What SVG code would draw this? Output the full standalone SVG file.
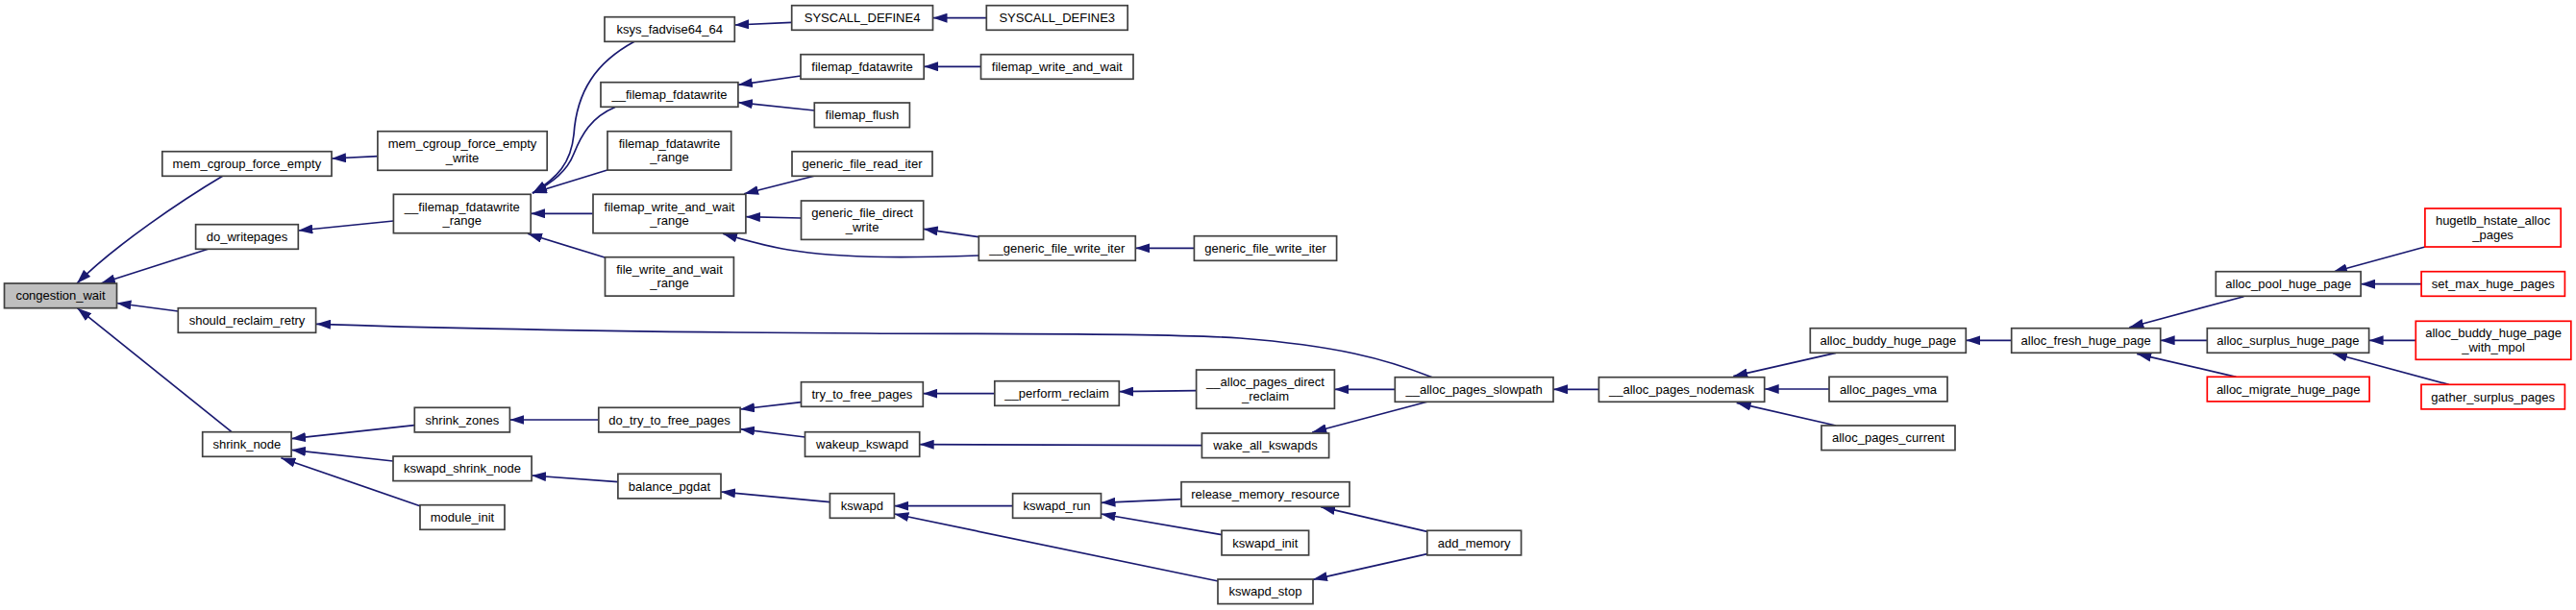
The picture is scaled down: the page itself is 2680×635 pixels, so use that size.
<svg xmlns="http://www.w3.org/2000/svg" width="2680" height="635" viewBox="0 0 2680 635">
<style>
.n rect{fill:#ffffff;stroke:#404040;stroke-width:1.7}
.n.root rect{fill:#bfbfbf}
.n.red rect{stroke:#ff0000}
.n text{font-family:"Liberation Sans",Arial,Helvetica,sans-serif;font-size:13px;fill:#000000;text-anchor:middle}
#edges path{fill:none;stroke:#191970;stroke-width:1.7;marker-end:url(#ah)}
</style>
<defs>
<marker id="ah" markerUnits="userSpaceOnUse" viewBox="0 0 15 10" markerWidth="15" markerHeight="10" refX="15" refY="5" orient="auto">
<path d="M0,0 L15,5 L0,10 z" fill="#191970"/>
</marker>
</defs>
<rect width="2680" height="635" fill="#ffffff"/>
<g id="edges">
<path d="M232,183 C190,208 120,255 80,295"/>
<path d="M216.5,259.3 L104.9,295"/>
<path d="M185.3,324 L121.4,315.5"/>
<path d="M241,449.7 L80.4,320.7"/>
<path d="M392.9,162.7 L345,165"/>
<path d="M409.4,230 L310.3,240"/>
<path d="M660,43.3 C620,65 600,95 597,140 C594,170 580,185 554,201"/>
<path d="M640,111.5 C615,122 605,140 597,160 C590,178 575,190 554,201"/>
<path d="M632.7,176.7 L554,201"/>
<path d="M616.7,222.3 L552.2,222.3"/>
<path d="M630,268.3 L549,243.3"/>
<path d="M823.7,23.3 L764.3,26"/>
<path d="M1026.3,18.7 L970.5,18.7"/>
<path d="M833,79 L767.9,88.3"/>
<path d="M847.3,115 L767.9,106.7"/>
<path d="M1020.5,69.3 L961.2,69.3"/>
<path d="M846.9,183.3 L774.1,201.7"/>
<path d="M833.5,227 L775.9,225.7"/>
<path d="M1018.3,266 C960,268 880,270 820,260 C795,256 775,250 752,243.3"/>
<path d="M1018.3,246.7 L960.7,238.3"/>
<path d="M1242.4,258.3 L1181.3,258.3"/>
<path d="M1490,392.7 C1440,373 1390,360 1290,352 C1200,346 1000,348 900,347 C700,346 500,343 329,337.3"/>
<path d="M431.3,442.7 L303.1,456.7"/>
<path d="M409,480 L303.1,468.3"/>
<path d="M437,526.7 L292.4,476.7"/>
<path d="M622.8,437 L530.4,437"/>
<path d="M642.9,501.7 L553.1,495"/>
<path d="M833.5,418.7 L770.1,426"/>
<path d="M837.5,455 L770.1,446.7"/>
<path d="M1034.8,409.7 L960.3,409.7"/>
<path d="M1244.6,406.7 L1164.3,407.7"/>
<path d="M1250.4,463.7 L956.7,462.7"/>
<path d="M863.4,522.7 L750,512"/>
<path d="M1053.6,526.7 L930.4,526.7"/>
<path d="M1267.4,605 L930.4,535"/>
<path d="M1228.6,519.7 L1145.5,523.3"/>
<path d="M1271,556.7 L1145.5,535"/>
<path d="M1484.8,553.3 L1374.1,527.7"/>
<path d="M1484.8,576.7 L1366,603.3"/>
<path d="M1451.3,405.3 L1388.4,405.3"/>
<path d="M1485.7,418 L1365.2,450"/>
<path d="M1663.4,405.3 L1616,405.3"/>
<path d="M1910,367.3 L1803.3,391.7"/>
<path d="M1903,405 L1835.7,405"/>
<path d="M1910,443 L1806.7,419.3"/>
<path d="M2092.7,354.3 L2045.3,354.3"/>
<path d="M2334.4,308.7 L2215.3,340.7"/>
<path d="M2296.3,354.3 L2247.6,354.3"/>
<path d="M2326.4,392.3 L2223.2,368.3"/>
<path d="M2522.9,257 L2427,283.3"/>
<path d="M2519.1,295.7 L2456.1,295.7"/>
<path d="M2513.3,354.3 L2464.6,354.3"/>
<path d="M2547.7,400.3 L2427,367.7"/>
</g>
<g id="node_congestion_wait" class="n root"><rect x="4.5" y="295" width="117" height="25.7"/><text x="63" y="312.3">congestion_wait</text></g>
<g id="node_mem_cgroup_force_empty" class="n"><rect x="168.8" y="157.7" width="176.2" height="25.6"/><text x="256.9" y="175">mem_cgroup_force_empty</text></g>
<g id="node_mem_cgroup_force_empty_write" class="n"><rect x="392.9" y="136.7" width="176.3" height="40.6"/><text x="481" y="154">mem_cgroup_force_empty</text><text x="481" y="168.5">_write</text></g>
<g id="node_do_writepages" class="n"><rect x="203.6" y="233.7" width="106.7" height="25.6"/><text x="257" y="251">do_writepages</text></g>
<g id="node_should_reclaim_retry" class="n"><rect x="185.3" y="320.7" width="143.3" height="25.6"/><text x="257" y="338">should_reclaim_retry</text></g>
<g id="node_shrink_node" class="n"><rect x="210.7" y="449.7" width="92.4" height="25.6"/><text x="256.9" y="467">shrink_node</text></g>
<g id="node___filemap_fdatawrite_range" class="n"><rect x="409.4" y="202.3" width="142.8" height="40.4"/><text x="480.8" y="219.5">__filemap_fdatawrite</text><text x="480.8" y="234">_range</text></g>
<g id="node_shrink_zones" class="n"><rect x="431.3" y="424.3" width="99.1" height="25.6"/><text x="480.9" y="441.6">shrink_zones</text></g>
<g id="node_kswapd_shrink_node" class="n"><rect x="409" y="475" width="144.1" height="25.6"/><text x="481" y="492.3">kswapd_shrink_node</text></g>
<g id="node_module_init" class="n"><rect x="437" y="525.7" width="88" height="25.6"/><text x="481" y="543">module_init</text></g>
<g id="node_ksys_fadvise64_64" class="n"><rect x="629" y="17.7" width="135.3" height="25.6"/><text x="696.7" y="35">ksys_fadvise64_64</text></g>
<g id="node___filemap_fdatawrite" class="n"><rect x="625" y="85.7" width="142.9" height="25.6"/><text x="696.5" y="103">__filemap_fdatawrite</text></g>
<g id="node_filemap_fdatawrite_range" class="n"><rect x="632" y="136.7" width="128.7" height="40.4"/><text x="696.4" y="153.9">filemap_fdatawrite</text><text x="696.4" y="168.4">_range</text></g>
<g id="node_filemap_write_and_wait_range" class="n"><rect x="617" y="202.3" width="158.9" height="40.4"/><text x="696.5" y="219.5">filemap_write_and_wait</text><text x="696.5" y="234">_range</text></g>
<g id="node_file_write_and_wait_range" class="n"><rect x="629.5" y="267.7" width="133.9" height="40.4"/><text x="696.5" y="284.9">file_write_and_wait</text><text x="696.5" y="299.4">_range</text></g>
<g id="node_do_try_to_free_pages" class="n"><rect x="622.8" y="424.3" width="147.3" height="25.6"/><text x="696.5" y="441.6">do_try_to_free_pages</text></g>
<g id="node_balance_pgdat" class="n"><rect x="642.9" y="493.3" width="107.1" height="25.6"/><text x="696.5" y="510.6">balance_pgdat</text></g>
<g id="node_SYSCALL_DEFINE4" class="n"><rect x="823.7" y="5.7" width="146.8" height="25.6"/><text x="897.1" y="23">SYSCALL_DEFINE4</text></g>
<g id="node_filemap_fdatawrite" class="n"><rect x="833" y="56.7" width="128.2" height="25.6"/><text x="897.1" y="74">filemap_fdatawrite</text></g>
<g id="node_filemap_flush" class="n"><rect x="847.3" y="107" width="99.1" height="25.6"/><text x="896.9" y="124.3">filemap_flush</text></g>
<g id="node_generic_file_read_iter" class="n"><rect x="824" y="157.7" width="146" height="25.6"/><text x="897" y="175">generic_file_read_iter</text></g>
<g id="node_generic_file_direct_write" class="n"><rect x="833.5" y="209" width="127.2" height="40.4"/><text x="897.1" y="226.2">generic_file_direct</text><text x="897.1" y="240.7">_write</text></g>
<g id="node_try_to_free_pages" class="n"><rect x="833.5" y="397.7" width="126.8" height="25.6"/><text x="896.9" y="415">try_to_free_pages</text></g>
<g id="node_wakeup_kswapd" class="n"><rect x="837.5" y="449.7" width="119.2" height="25.6"/><text x="897.1" y="467">wakeup_kswapd</text></g>
<g id="node_kswapd" class="n"><rect x="863.4" y="513.7" width="67" height="25.6"/><text x="896.9" y="531">kswapd</text></g>
<g id="node_SYSCALL_DEFINE3" class="n"><rect x="1026.3" y="5.7" width="146.9" height="25.6"/><text x="1099.75" y="23">SYSCALL_DEFINE3</text></g>
<g id="node_filemap_write_and_wait" class="n"><rect x="1020.5" y="56.7" width="158.5" height="25.6"/><text x="1099.75" y="74">filemap_write_and_wait</text></g>
<g id="node___generic_file_write_iter" class="n"><rect x="1018.3" y="245.7" width="163" height="25.6"/><text x="1099.8" y="263">__generic_file_write_iter</text></g>
<g id="node___perform_reclaim" class="n"><rect x="1034.8" y="396.7" width="129.5" height="25.6"/><text x="1099.55" y="414">__perform_reclaim</text></g>
<g id="node_kswapd_run" class="n"><rect x="1053.6" y="513.7" width="91.9" height="25.6"/><text x="1099.55" y="531">kswapd_run</text></g>
<g id="node_generic_file_write_iter" class="n"><rect x="1242.4" y="245.7" width="148.2" height="25.6"/><text x="1316.5" y="263">generic_file_write_iter</text></g>
<g id="node___alloc_pages_direct_reclaim" class="n"><rect x="1244.6" y="385" width="143.8" height="40.3"/><text x="1316.5" y="402.2">__alloc_pages_direct</text><text x="1316.5" y="416.7">_reclaim</text></g>
<g id="node_wake_all_kswapds" class="n"><rect x="1250.4" y="451" width="132.2" height="25.6"/><text x="1316.5" y="468.3">wake_all_kswapds</text></g>
<g id="node_release_memory_resource" class="n"><rect x="1229" y="501.7" width="175" height="25.6"/><text x="1316.5" y="519">release_memory_resource</text></g>
<g id="node_kswapd_init" class="n"><rect x="1271" y="552.3" width="90.6" height="25.6"/><text x="1316.3" y="569.6">kswapd_init</text></g>
<g id="node_kswapd_stop" class="n"><rect x="1267" y="603" width="99" height="25.6"/><text x="1316.5" y="620.3">kswapd_stop</text></g>
<g id="node___alloc_pages_slowpath" class="n"><rect x="1451.3" y="392.7" width="164.7" height="25.6"/><text x="1533.65" y="410">__alloc_pages_slowpath</text></g>
<g id="node_add_memory" class="n"><rect x="1484.8" y="552.3" width="97.8" height="25.6"/><text x="1533.7" y="569.6">add_memory</text></g>
<g id="node___alloc_pages_nodemask" class="n"><rect x="1663.4" y="392.7" width="172.3" height="25.6"/><text x="1749.55" y="410">__alloc_pages_nodemask</text></g>
<g id="node_alloc_buddy_huge_page" class="n"><rect x="1883.3" y="341.7" width="162" height="25.6"/><text x="1964.3" y="359">alloc_buddy_huge_page</text></g>
<g id="node_alloc_pages_vma" class="n"><rect x="1903" y="392.3" width="123" height="25.6"/><text x="1964.5" y="409.6">alloc_pages_vma</text></g>
<g id="node_alloc_pages_current" class="n"><rect x="1895" y="443" width="139" height="25.6"/><text x="1964.5" y="460.3">alloc_pages_current</text></g>
<g id="node_alloc_fresh_huge_page" class="n"><rect x="2092.7" y="341.7" width="155" height="25.6"/><text x="2170.2" y="359">alloc_fresh_huge_page</text></g>
<g id="node_alloc_pool_huge_page" class="n"><rect x="2305.3" y="282.7" width="150.8" height="25.6"/><text x="2380.7" y="300">alloc_pool_huge_page</text></g>
<g id="node_alloc_surplus_huge_page" class="n"><rect x="2296.3" y="341.7" width="168.3" height="25.6"/><text x="2380.45" y="359">alloc_surplus_huge_page</text></g>
<g id="node_alloc_migrate_huge_page" class="n red"><rect x="2296.3" y="392.3" width="168.8" height="25.6"/><text x="2380.7" y="409.6">alloc_migrate_huge_page</text></g>
<g id="node_hugetlb_hstate_alloc_pages" class="n red"><rect x="2522.9" y="217" width="141.3" height="40"/><text x="2593.55" y="234">hugetlb_hstate_alloc</text><text x="2593.55" y="248.5">_pages</text></g>
<g id="node_set_max_huge_pages" class="n red"><rect x="2519.1" y="282.7" width="149.3" height="25.6"/><text x="2593.75" y="300">set_max_huge_pages</text></g>
<g id="node_alloc_buddy_huge_page_with_mpol" class="n red"><rect x="2513.3" y="334.3" width="161.5" height="40"/><text x="2594.05" y="351.3">alloc_buddy_huge_page</text><text x="2594.05" y="365.8">_with_mpol</text></g>
<g id="node_gather_surplus_pages" class="n red"><rect x="2519" y="400.3" width="149.4" height="25.6"/><text x="2593.7" y="417.6">gather_surplus_pages</text></g>
</svg>
